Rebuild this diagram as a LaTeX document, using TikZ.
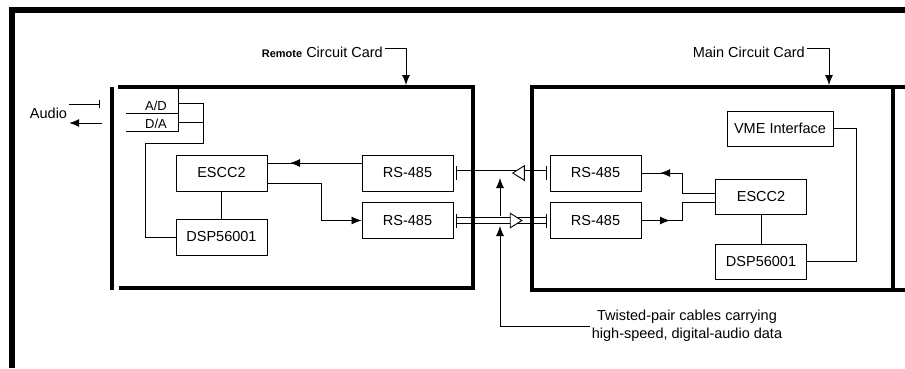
\documentclass[tikz,border=0pt]{standalone}
\usepackage{fontspec}
\setmainfont{Liberation Sans}
\usetikzlibrary{arrows.meta,decorations.markings}

\begin{document}
\begin{tikzpicture}[x=1pt, y=-1pt,
	box/.style={draw, line width=0.9pt, minimum width=91pt, minimum height=36pt, inner sep=0pt, font=\fontsize{14.5}{17}\selectfont},
	txt/.style={inner sep=2pt, font=\fontsize{14.5}{18}\selectfont},
	small/.style={inner sep=0pt, font=\fontsize{13}{15}\selectfont},
	wire/.style={line width=0.8pt},
	card/.style={line width=3.5pt},
	frame/.style={line width=6pt},
	tip/.style={-{Latex[length=10pt, width=8pt]}},
	arrowat/.style={postaction={decorate}, decoration={markings, mark=at position #1 with {\arrow{Latex[length=10pt, width=8pt]}}}},
	cable/.style={double, double distance=5pt, line width=0.9pt},
	hollowat/.style={decorate, decoration={markings, mark=at position #1 with {\arrow[line width=0.9pt]{Triangle[length=13pt, width=16pt, fill=white]}}}}]
	\useasboundingbox (0,0) rectangle (905,368);

	\node[box] (rescc) at (221.5,173) {ESCC2};
	\node[box] (rdsp) at (221.5,237) {DSP56001};
	\node[box] (rrsa) at (407.5,173) {RS-485};
	\node[box] (rrsb) at (407.5,220.5) {RS-485};
	\node[box, minimum width=106pt, minimum height=35pt] (mvme) at (780,128.5) {VME Interface};
	\node[box] (mrsa) at (595.5,173) {RS-485};
	\node[box] (mrsb) at (595.5,220.5) {RS-485};
	\node[box, minimum height=35pt] (mescc) at (761,196.5) {ESCC2};
	\node[box, minimum height=35pt] (mdsp) at (761,261.5) {DSP56001};

	\node[small] (ad) at (156,106) {A/D};
	\node[small] (da) at (156,124) {D/A};
	\node[txt] (audio) at (48.5,113) {Audio};
	\node[txt, anchor=east] (rlabel) at (385,52) {{\fontsize{11}{13}\selectfont\bfseries Remote} Circuit Card};
	\node[txt, anchor=east] (mlabel) at (807,52) {Main Circuit Card};
	\node[txt, align=center] (twist) at (687,326) {Twisted-pair cables carrying\\high-speed, digital-audio data};

	\coordinate (ain) at (100,104);
	\coordinate (aout) at (102,123);
	\coordinate (adout) at (178,103);
	\coordinate (daout) at (178,122);
	\coordinate (rcard) at (406,85);
	\coordinate (mcard) at (829,85);
	\coordinate (lowtip) at (500,226);
	\coordinate (uptail) at (500,216);
	\coordinate (uptip) at (500,178);

	\draw[cable] ([xshift=3pt]rrsa.east) -- ([xshift=-3pt]mrsa.west);
	\draw[cable] ([xshift=3pt]rrsb.east) -- ([xshift=-3pt]mrsb.west);
	\path[hollowat=0.385] ([xshift=-3pt]mrsa.west) -- ([xshift=3pt]rrsa.east);
	\path[hollowat=0.736] ([xshift=3pt]rrsb.east) -- ([xshift=-3pt]mrsb.west);
	\draw[wire] ([xshift=3pt]rrsa.east) ++(0,-7) -- ++(0,14);
	\draw[wire] ([xshift=3pt]rrsb.east) ++(0,-7) -- ++(0,14);
	\draw[wire] ([xshift=-3pt]mrsa.west) ++(0,-7) -- ++(0,14);
	\draw[wire] ([xshift=-3pt]mrsb.west) ++(0,-7) -- ++(0,14);

	\draw[frame] (12,368) -- (12,10) -- (905,10);
	\draw[card] (112,87) -- (112,290);
	\draw[card] (118,87) -- (473,87) -- (473,288) -- (119,288);
	\draw[card] (905,87) -- (532,87) -- (532,290) -- (905,290);
	\draw[card] (893,87) -- (893,290);

	\draw[wire] (126,113) -- (178,113);
	\draw[wire] (126,131) -- (178,131) -- (178,88);
	\fill (178,88) circle (1.6pt);
	\draw[wire] (adout) -- (203,103) -- (203,143) -- (145,143) |- (rdsp.west);
	\draw[wire] (daout) -- (203,122);
	\draw[wire, -{Bar[width=8pt]}] (audio.east |- ain) -- (ain);
	\draw[wire, tip] (aout) -- (audio.east |- aout);

	\draw[wire, arrowat=0.76] ([yshift=10pt]rrsa.west) -- ([yshift=10pt]rescc.east);
	\draw[wire, tip] ([yshift=-10pt]rescc.east) -- (321,183) |- (rrsb.west);
	\draw[wire] (rescc.south) -- (rdsp.north);

	\draw[wire, arrowat=0.8] ([yshift=3.5pt]mescc.west) -- (682,193) |- (mrsa.east);
	\draw[wire, arrowat=0.31] (mrsb.east) -- (682,220.5) |- ([yshift=-5.5pt]mescc.west);
	\draw[wire] (mescc.south) -- (mdsp.north);
	\draw[wire] (mvme.east) -- (856,128.5) |- (mdsp.east);

	\draw[wire, tip] ([yshift=4pt]rlabel.east) -| (rcard);
	\draw[wire, tip] ([yshift=4pt]mlabel.east) -| (mcard);
	\draw[wire, tip] (twist.west) -| (lowtip);
	\draw[wire, tip] (uptail) -- (uptip);
\end{tikzpicture}
\end{document}
